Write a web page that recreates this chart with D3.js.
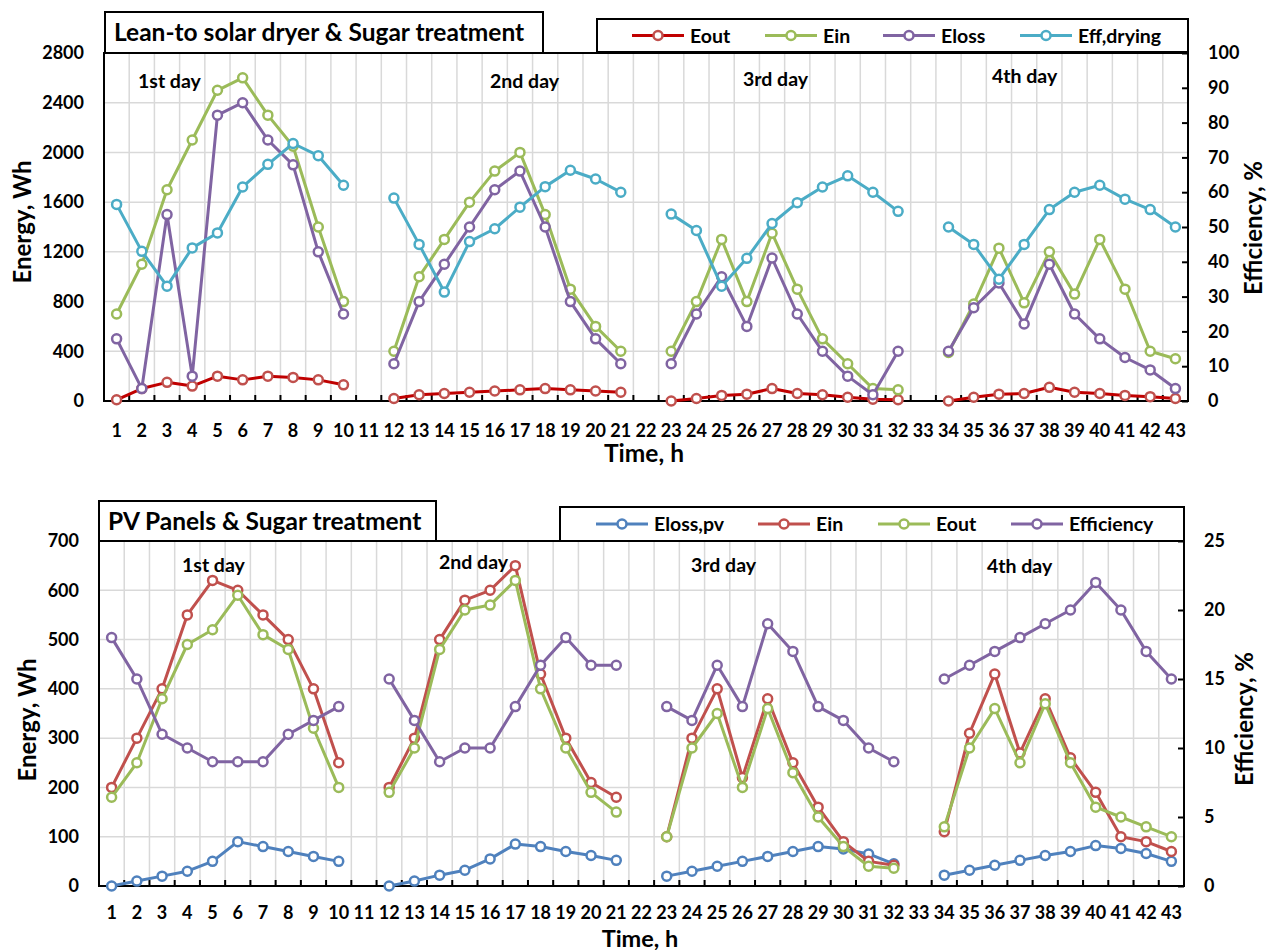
<!DOCTYPE html>
<html><head><meta charset="utf-8">
<script src="https://cdn.jsdelivr.net/npm/d3@7/dist/d3.min.js"></script>
<style>
html,body{margin:0;padding:0;background:#fff;}
text{font-family:Lato,"Noto Sans",sans-serif;font-weight:700;fill:#000;}
</style></head>
<body><svg id="c" width="1272" height="950"></svg>
<script>
// ---------- DATA ----------
const hours = d3.range(1, 44);
const dayLabels = ["1st day", "2nd day", "3rd day", "4th day"];

// Top chart: Lean-to solar dryer & Sugar treatment
const topEnergyTicks = [0, 400, 800, 1200, 1600, 2000, 2400, 2800];
const topEffTicks = [0, 10, 20, 30, 40, 50, 60, 70, 80, 90, 100];
const topEout = [10,100,150,120,200,170,200,190,170,130, null, 20,50,60,70,80,90,100,90,80,70, null, 0,20,45,55,100,60,50,30,15,10, null, 0,30,55,60,110,70,60,45,35,20];
const topEin = [700,1100,1700,2100,2500,2600,2300,2050,1400,800, null, 400,1000,1300,1600,1850,2000,1500,900,600,400, null, 400,800,1300,800,1350,900,500,300,100,90, null, 390,780,1230,790,1200,860,1300,900,400,340];
const topEloss = [500,100,1500,200,2300,2400,2100,1900,1200,700, null, 300,800,1100,1400,1700,1850,1400,800,500,300, null, 300,700,1000,600,1150,700,400,200,50,400, null, 400,750,950,620,1100,700,500,350,250,100];
const topEff = [56.5,43,33,44,48.3,61.5,68,74,70.5,62, null, 58.3,45,31.3,45.8,49.5,55.7,61.6,66.3,63.8,60, null, 53.7,49,33,41,51,57,61.5,64.7,60,54.5, null, 50,45,35,45,55,60,62,58,55,50];

// Bottom chart: PV Panels & Sugar treatment
const botEnergyTicks = [0, 100, 200, 300, 400, 500, 600, 700];
const botEffTicks = [0, 5, 10, 15, 20, 25];
const botElossPv = [0,10,20,30,50,90,80,70,60,50, null, 0,10,22,32,55,85,80,70,62,52, null, 20,30,40,50,60,70,80,75,65,45, null, 22,32,42,52,62,70,82,76,66,50];
const botEin = [200,300,400,550,620,600,550,500,400,250, null, 200,300,500,580,600,650,430,300,210,180, null, 100,300,400,220,380,250,160,90,50,42, null, 110,310,430,270,380,260,190,100,90,70];
const botEout = [180,250,380,490,520,590,510,480,320,200, null, 190,280,480,560,570,620,400,280,190,150, null, 100,280,350,200,360,230,140,80,40,36, null, 120,280,360,250,370,250,160,140,120,100];
const botEff = [18,15,11,10,9,9,9,11,12,13, null, 15,12,9,10,10,13,16,18,16,16, null, 13,12,16,13,19,17,13,12,10,9, null, 15,16,17,18,19,20,22,20,17,15];

// ---------- CHART ----------
const svg = d3.select("#c");
const TICK_FS = "18px";

function drawChart(cfg) {
  const g = svg.append("g");
  const x = d3.scaleBand().domain(hours).range([cfg.x0, cfg.x1]);
  const bw = x.bandwidth();
  const cx = h => x(h) + bw / 2;
  const y = d3.scaleLinear().domain([0, d3.max(cfg.leftTicks)]).range([cfg.y1, cfg.y0]);
  const yr = d3.scaleLinear().domain([0, d3.max(cfg.rightTicks)]).range([cfg.y1, cfg.y0]);

  // grid
  g.append("g").selectAll("line").data(hours.slice(1)).join("line")
    .attr("x1", h => x(h)).attr("x2", h => x(h))
    .attr("y1", cfg.y0).attr("y2", cfg.y1)
    .attr("stroke", "#d9d9d9").attr("stroke-width", 1.5);
  g.append("g").selectAll("line").data(cfg.leftTicks.slice(1)).join("line")
    .attr("x1", cfg.x0).attr("x2", cfg.x1)
    .attr("y1", d => y(d)).attr("y2", d => y(d))
    .attr("stroke", "#d9d9d9").attr("stroke-width", 1.5);

  // x tick marks at band boundaries (inward)
  g.append("g").selectAll("line").data(hours.slice(1)).join("line")
    .attr("x1", h => x(h)).attr("x2", h => x(h))
    .attr("y1", cfg.y1).attr("y2", cfg.y1 - 6)
    .attr("stroke", "#000").attr("stroke-width", 2);

  // axes
  const ax = g.append("g").attr("transform", `translate(0,${cfg.y1})`)
    .call(d3.axisBottom(x).tickSize(0).tickPadding(0));
  ax.select(".domain").remove();
  ax.selectAll("text").attr("dy", null).attr("y", cfg.xLabelOffset).style("font-size", TICK_FS).attr("font-family", null).attr("font-size", null);

  const al = g.append("g").attr("transform", `translate(${cfg.x0},0)`)
    .call(d3.axisLeft(y).tickValues(cfg.leftTicks).tickFormat(d3.format("d")).tickSize(0).tickPadding(20));
  al.select(".domain").remove();
  al.selectAll("text").style("font-size", TICK_FS).attr("font-family", null).attr("font-size", null);

  const ar = g.append("g").attr("transform", `translate(${cfg.x1},0)`)
    .call(d3.axisRight(yr).tickValues(cfg.rightTicks).tickFormat(d3.format("d")).tickSizeInner(-6).tickSizeOuter(0).tickPadding(20));
  ar.select(".domain").remove();
  ar.selectAll("line").attr("stroke-width", 2);
  ar.selectAll("text").attr("x", 20).style("font-size", TICK_FS).attr("font-family", null).attr("font-size", null);

  // frame
  g.append("rect").attr("x", cfg.x0).attr("y", cfg.y0)
    .attr("width", cfg.x1 - cfg.x0).attr("height", cfg.y1 - cfg.y0)
    .attr("fill", "none").attr("stroke", "#000").attr("stroke-width", 2);

  // series
  cfg.series.forEach(s => {
    const sc = s.right ? yr : y;
    const pts = hours.map((h, i) => ({h, v: s.values[i]}));
    const line = d3.line().defined(d => d.v != null).x(d => cx(d.h)).y(d => sc(d.v));
    g.append("path").datum(pts).attr("d", line)
      .attr("fill", "none").attr("stroke", s.line).attr("stroke-width", 3).attr("stroke-linejoin", "round");
    g.append("g").selectAll("circle").data(pts.filter(d => d.v != null)).join("circle")
      .attr("cx", d => cx(d.h)).attr("cy", d => sc(d.v)).attr("r", 4.5)
      .attr("fill", "#fff").attr("stroke", s.marker).attr("stroke-width", 2.5);
  });

  // day labels
  cfg.dayPos.forEach((p, i) => {
    g.append("text").attr("x", p[0]).attr("y", p[1]).style("font-size", "19.5px").text(dayLabels[i]);
  });

  // title box
  g.append("rect").attr("x", cfg.titleBox[0]).attr("y", cfg.titleBox[1])
    .attr("width", cfg.titleBox[2]).attr("height", cfg.titleBox[3])
    .attr("fill", "#fff").attr("stroke", "#000").attr("stroke-width", 2);
  g.append("text").attr("x", cfg.titleBox[0] + 9).attr("y", cfg.titleBox[1] + cfg.titleBox[3] / 2 + 8.5)
    .style("font-size", "24.5px").text(cfg.title);

  // legend box
  g.append("rect").attr("x", cfg.legendBox[0]).attr("y", cfg.legendBox[1])
    .attr("width", cfg.legendBox[2]).attr("height", cfg.legendBox[3])
    .attr("fill", "#fff").attr("stroke", "#000").attr("stroke-width", 2);
  const ly = cfg.legendBox[1] + cfg.legendBox[3] / 2;
  cfg.series.forEach((s, i) => {
    const lx = cfg.legendX[i];
    g.append("line").attr("x1", lx).attr("x2", lx + 52).attr("y1", ly).attr("y2", ly)
      .attr("stroke", s.line).attr("stroke-width", 3);
    g.append("circle").attr("cx", lx + 26).attr("cy", ly).attr("r", 4.5)
      .attr("fill", "#fff").attr("stroke", s.marker).attr("stroke-width", 2.5);
    g.append("text").attr("x", lx + 58).attr("y", ly + 7).style("font-size", "19.5px").text(s.name);
  });

  // axis titles
  g.append("text").attr("transform", `translate(${cfg.leftTitle[0]},${cfg.leftTitle[1]}) rotate(-90)`)
    .attr("text-anchor", "middle").style("font-size", "24px").text("Energy, Wh");
  g.append("text").attr("transform", `translate(${cfg.rightTitle[0]},${cfg.rightTitle[1]}) rotate(-90)`)
    .attr("text-anchor", "middle").style("font-size", "24px").text("Efficiency, %");
  g.append("text").attr("x", cfg.xTitle[0]).attr("y", cfg.xTitle[1])
    .attr("text-anchor", "middle").style("font-size", cfg.xTitleFs).text("Time, h");
}

drawChart({
  x0: 104, x1: 1188, y0: 53, y1: 401,
  leftTicks: topEnergyTicks, rightTicks: topEffTicks,
  series: [
    {name: "Eout", values: topEout, line: "#C00000", marker: "#C0504D"},
    {name: "Ein", values: topEin, line: "#9BBB59", marker: "#9BBB59"},
    {name: "Eloss", values: topEloss, line: "#8064A2", marker: "#8064A2"},
    {name: "Eff,drying", values: topEff, line: "#4BACC6", marker: "#4BACC6", right: true}
  ],
  dayPos: [[138, 88], [490, 88], [743, 86], [992, 83]],
  title: "Lean-to solar dryer & Sugar treatment",
  titleBox: [105, 12, 438, 41],
  legendBox: [597, 19, 591, 33],
  legendX: [632, 765, 883, 1020],
  xLabelOffset: 35.5, xTitleFs: "24.5px",
  leftTitle: [31, 222], rightTitle: [1262, 228], xTitle: [644, 462]
});

drawChart({
  x0: 99, x1: 1184, y0: 541, y1: 886,
  leftTicks: botEnergyTicks, rightTicks: botEffTicks,
  series: [
    {name: "Eloss,pv", values: botElossPv, line: "#4F81BD", marker: "#4F81BD"},
    {name: "Ein", values: botEin, line: "#C0504D", marker: "#C0504D"},
    {name: "Eout", values: botEout, line: "#9BBB59", marker: "#9BBB59"},
    {name: "Efficiency", values: botEff, line: "#8064A2", marker: "#8064A2", right: true}
  ],
  dayPos: [[182, 572], [439, 569], [691, 572], [987, 573]],
  title: "PV Panels & Sugar treatment",
  titleBox: [99, 501, 337, 40],
  legendBox: [560, 507, 624, 34],
  legendX: [596, 758, 878, 1011],
  xLabelOffset: 32.5, xTitleFs: "23.5px",
  leftTitle: [36, 720], rightTitle: [1253, 719], xTitle: [640, 946.5]
});
</script></body></html>
